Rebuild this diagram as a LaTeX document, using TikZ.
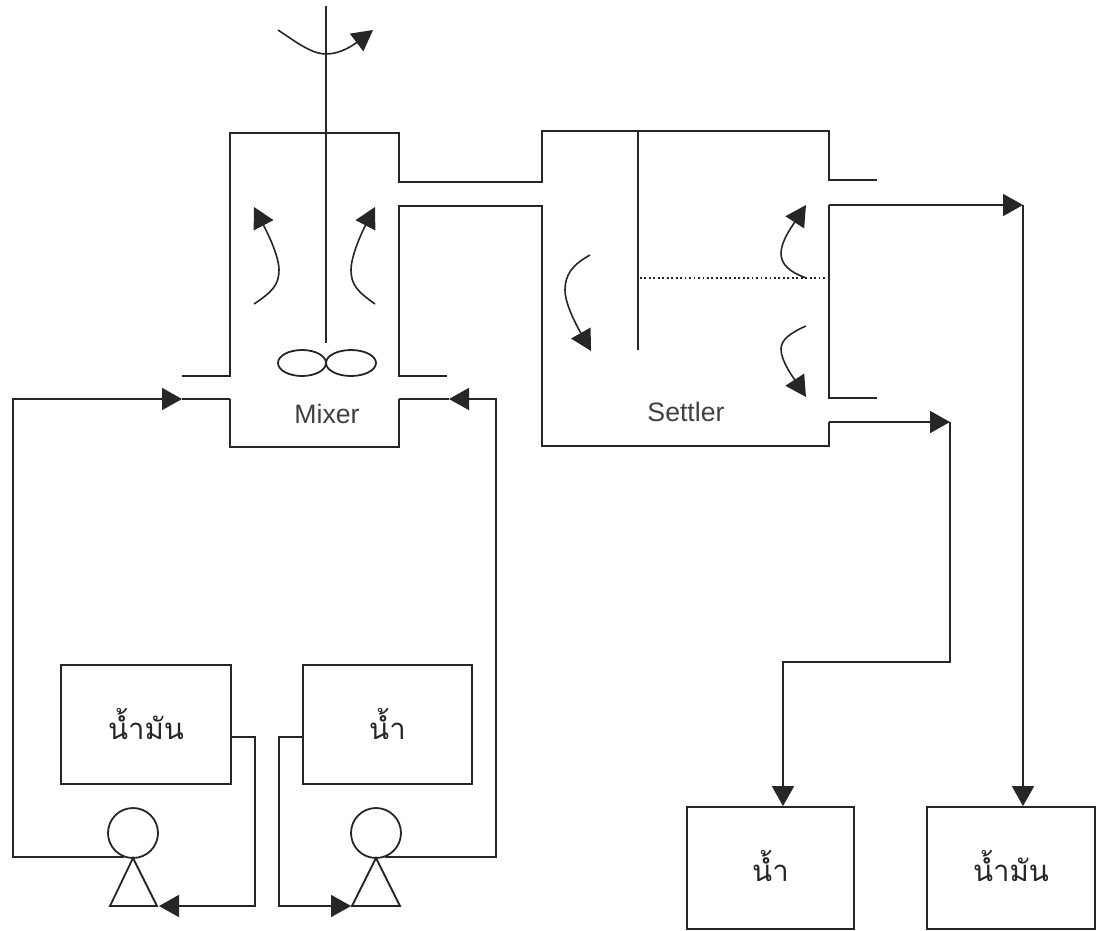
\documentclass[tikz,border=0pt]{standalone}
\usepackage{fontspec}
\setmainfont{Liberation Sans}
\newfontfamily\thaifont[Script=Thai]{Loma}
\usetikzlibrary{arrows.meta,shapes.geometric}
\tikzset{
  x=0.75pt,y=-0.75pt,
  every path/.style={line width=1.35pt,line join=miter,color=black!85},
  tankbox/.style={draw,rectangle,inner sep=0pt,font=\thaifont\fontsize{22}{22}\selectfont,text=black!85},
  lbl/.style={font=\fontsize{20}{20}\selectfont,text=black!75,inner sep=0pt},
  flow/.style={-{Triangle[length=15pt,width=16.5pt]}},
  swirl/.style={line width=1.2pt,-{Triangle[length=15.5pt,width=16.5pt]}},
  pumpc/.style={draw,circle,minimum size=37.5pt,inner sep=0pt},
}
\begin{document}
\begin{tikzpicture}
\useasboundingbox (0,0) rectangle (1097,931);
% tanks
\node[tankbox,minimum width=128pt,minimum height=89.25pt] (oilTank) at (146,724.5) {น้ำมัน};
\node[tankbox,minimum width=126.75pt,minimum height=89.25pt] (waterTank) at (387.5,724.5) {น้ำ};
\node[tankbox,minimum width=125.25pt,minimum height=91.5pt] (waterOut) at (770.5,868) {\raisebox{3pt}{น้ำ}};
\node[tankbox,minimum width=126pt,minimum height=91.5pt] (oilOut) at (1011,868) {\raisebox{3pt}{น้ำมัน}};
% pumps
\node[pumpc] (pumpA) at (133,833) {};
\node[pumpc] (pumpB) at (376,833) {};
\coordinate (triA) at (133,858);
\coordinate (triB) at (376,858);
\coordinate (portA) at (124,857);
\coordinate (portB) at (385,857);
\draw (triA) -- (110,906) -- (157,906) -- cycle;
\draw (triB) -- (352,906) -- (400,906) -- cycle;
% labels
\node[lbl] (mixerLabel) at (327,414) {Mixer};
\node[lbl] (settlerLabel) at (686,412) {Settler};
% mixer vessel
\coordinate (mixInL) at (230,399);
\coordinate (mixInR) at (399,399);
\draw (182,376) -- (230,376) -- (230,133) -- (399,133) -- (399,182) -- (542,182) -- (542,131) -- (829,131) -- (829,180) -- (877,180);
\draw (447,376) -- (399,376) -- (399,206) -- (542,206) -- (542,446) -- (829,446) -- (829,422) coordinate (setLow);
\draw (877,398) -- (829,398) -- (829,205) coordinate (setUp);
\draw (mixInL) -- (230,447) -- (399,447) -- (mixInR);
% shaft and impeller
\draw (326,6) -- (326,343);
\draw (302,363) ellipse[x radius=24,y radius=13];
\draw (351,363) ellipse[x radius=25,y radius=13];
\draw[swirl] (278,30) .. controls (300,45) and (313,54) .. (326,54) .. controls (340,54) and (352,46) .. (373,30);
% mixer flow arrows
\draw[swirl] (254,304) .. controls (272,292) and (279,285) .. (279,270) .. controls (279,255) and (266,230) .. (254,207);
\draw[swirl] (375,304) .. controls (358,292) and (351,285) .. (351,270) .. controls (351,255) and (363,230) .. (375,207);
% settler internals
\draw (638,131) -- (638,350);
\draw[dotted,line width=1.4pt] (640,278) -- (828,278);
\draw[swirl] (590,255) .. controls (572,265) and (565,275) .. (565,290) .. controls (565,305) and (578,328) .. (591,351);
\draw[swirl] (806,278) .. controls (790,272) and (781,265) .. (781,253) .. controls (781,240) and (795,222) .. (806,205);
\draw[swirl] (806,326) .. controls (790,333) and (781,340) .. (781,349) .. controls (781,362) and (795,380) .. (806,397);
% oil feed
\coordinate (inletOil) at (182,399);
\coordinate (inletWater) at (449,399);
\draw[flow] (portA) -- (13,857) -- (13,399) -- (inletOil);
\draw (inletOil) -- (mixInL);
\draw[flow] (portB) -- (496,857) -- (496,399) -- (inletWater);
\draw (inletWater) -- (mixInR);
% tank to pump
\draw[flow] (oilTank.east |- 0,737) -- (255,737) -- (255,906) -- (159,906);
\draw[flow] (waterTank.west |- 0,737) -- (279,737) -- (279,906) -- (351,906);
% settler outlets
\coordinate (cornerOil) at (1023,205);
\coordinate (cornerWater) at (950,422);
\draw[flow] (setUp) -- (cornerOil);
\draw[flow] (setLow) -- (cornerWater);
\draw[flow] (cornerOil) -- (oilOut.north -| cornerOil);
\draw[flow] (cornerWater) -- (950,662) -- (783,662) -- (waterOut.north -| 783,0);
\end{tikzpicture}
\end{document}
